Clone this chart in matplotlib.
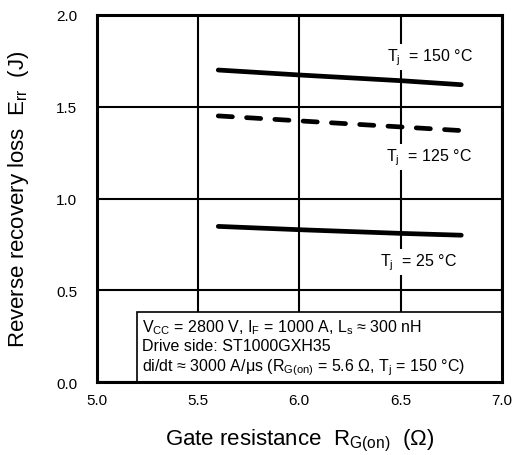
import matplotlib
matplotlib.use("Agg")
import matplotlib.pyplot as plt
from matplotlib.patches import Rectangle

plt.rcParams['font.family'] = ['Liberation Sans', 'DejaVu Sans']
plt.rcParams['mathtext.fontset'] = 'custom'
plt.rcParams['mathtext.rm'] = 'Liberation Sans'
plt.rcParams['mathtext.it'] = 'Liberation Sans'

# gate resistance (ohm)
rg = [5.6, 6.0, 6.5, 6.8]
# reverse recovery loss (J)
err_150 = [1.70, 1.673, 1.642, 1.62]
err_125 = [1.45, 1.423, 1.39, 1.37]
err_25 = [0.848, 0.830, 0.810, 0.800]

x_ticks = [5.0, 5.5, 6.0, 6.5, 7.0]
y_ticks = [0.0, 0.5, 1.0, 1.5, 2.0]

fig = plt.figure(figsize=(5.12, 4.56), dpi=100)
ax = fig.add_axes([0.189, 0.160, 0.791, 0.805])

ax.plot(rg, err_150, color='black', lw=3.4, solid_capstyle='round', zorder=4)
ax.plot(rg, err_125, color='black', lw=3.4, dashes=(3.0, 3.0),
        dash_capstyle='round', zorder=4)
ax.plot(rg, err_25, color='black', lw=3.4, solid_capstyle='round', zorder=4)

lbl = dict(fontsize=11.5, ha='center', va='center', zorder=3,
           bbox=dict(facecolor='white', edgecolor='none', pad=2))
ax.text(6.645, 1.77, r'$\mathregular{T_j}$  = 150 °C', **lbl)
ax.text(6.64, 1.226, r'$\mathregular{T_j}$  = 125 °C', **lbl)
ax.text(6.59, 0.655, r'$\mathregular{T_j}$  = 25 °C', **lbl)

ax.add_patch(Rectangle((5.2, 0.0), 1.8, 0.38, facecolor='white',
                       edgecolor='black', lw=1.2, zorder=5))
info = dict(fontsize=11.5, ha='left', va='center', zorder=6)
ax.text(5.222, 0.30, r'V$_\mathregular{CC}$ = 2800 V, I$_\mathregular{F}$ = 1000 A, '
        r'L$_\mathregular{s}$ ≈ 300 nH', **info)
ax.text(5.222, 0.20, 'Drive side: ST1000GXH35', **info)
ax.text(5.222, 0.082, r'di/dt ≈ 3000 A/μs (R$_\mathregular{G(on)}$ = 5.6 Ω, '
        r'T$_\mathregular{j}$ = 150 °C)', **info)

ax.set_xlim(5.0, 7.0)
ax.set_ylim(0.0, 2.0)
ax.set_xticks(x_ticks)
ax.set_yticks(y_ticks)
ax.set_xticklabels([f'{v:.1f}' for v in x_ticks])
ax.set_yticklabels([f'{v:.1f}' for v in y_ticks])
ax.tick_params(axis='x', length=0, labelsize=11, pad=8)
ax.tick_params(axis='y', length=0, labelsize=11, pad=14)
ax.grid(True, color='black', lw=1.5, zorder=1)
ax.set_axisbelow(True)
for s in ax.spines.values():
    s.set_linewidth(2.2)
    s.set_zorder(7)

ax.set_xlabel(r'Gate resistance  R$_\mathregular{G(on)}$  (Ω)', fontsize=16, labelpad=14)
ax.set_ylabel(r'Reverse recovery loss  E$_\mathregular{rr}$  (J)', fontsize=16, labelpad=18)

fig.savefig('out.png', dpi=100)
